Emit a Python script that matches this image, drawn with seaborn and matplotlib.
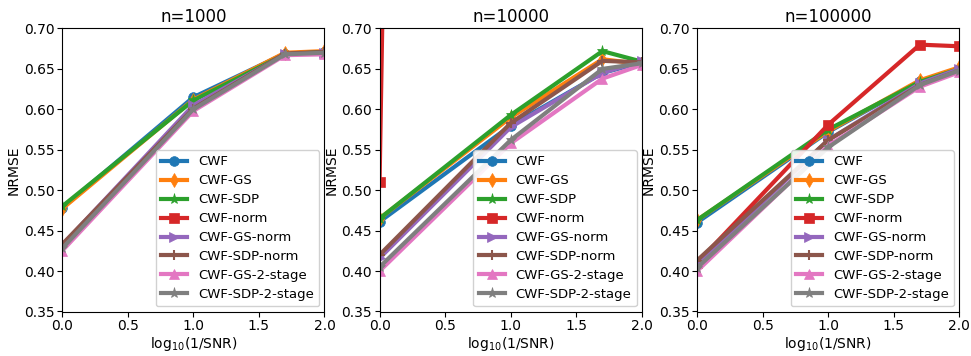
import matplotlib
matplotlib.use("Agg")
import matplotlib.pyplot as plt
import seaborn as sns
import numpy as np

x_vals = [0.0, 1.0, 1.699, 2.0]
titles = ["n=1000", "n=10000", "n=100000"]
methods = ["CWF", "CWF-GS", "CWF-SDP", "CWF-norm", "CWF-GS-norm",
           "CWF-SDP-norm", "CWF-GS-2-stage", "CWF-SDP-2-stage"]
markers = ["o", "d", "*", "s", ">", "+", "^", "*"]

# NRMSE per method, per panel (n=1000, n=10000, n=100000)
cwf          = [[0.478, 0.615, 0.669, 0.671], [0.461, 0.580, 0.645, 0.658], [0.460, 0.572, 0.635, 0.650]]
cwf_gs       = [[0.477, 0.612, 0.670, 0.672], [0.465, 0.590, 0.662, 0.656], [0.463, 0.573, 0.636, 0.652]]
cwf_sdp      = [[0.480, 0.611, 0.668, 0.671], [0.465, 0.593, 0.672, 0.659], [0.463, 0.575, 0.634, 0.650]]
cwf_norm     = [[0.900, 9.000, 9.500, 9.800], [0.510, 10.00, 10.00, 10.00], [0.410, 0.581, 0.680, 0.678]]
cwf_gs_norm  = [[0.432, 0.605, 0.668, 0.670], [0.416, 0.578, 0.645, 0.660], [0.408, 0.562, 0.632, 0.650]]
cwf_sdp_norm = [[0.433, 0.601, 0.669, 0.671], [0.420, 0.583, 0.660, 0.658], [0.413, 0.562, 0.630, 0.648]]
cwf_gs_2st   = [[0.425, 0.598, 0.667, 0.668], [0.400, 0.558, 0.638, 0.655], [0.400, 0.555, 0.628, 0.646]]
cwf_sdp_2st  = [[0.428, 0.600, 0.668, 0.670], [0.405, 0.562, 0.650, 0.657], [0.404, 0.553, 0.630, 0.648]]

series = [cwf, cwf_gs, cwf_sdp, cwf_norm, cwf_gs_norm, cwf_sdp_norm, cwf_gs_2st, cwf_sdp_2st]
colors = sns.color_palette("tab10", 8)

fig, axes = plt.subplots(1, 3, figsize=(9.71, 3.56), dpi=100)
fig.subplots_adjust(left=0.064, right=0.988, top=0.92, bottom=0.125, wspace=0.21)

for p, ax in enumerate(axes):
    for k, name in enumerate(methods):
        sns.lineplot(x=x_vals, y=series[k][p], ax=ax, color=colors[k], marker=markers[k],
                     markersize=8 if markers[k] == "*" else 7, linewidth=3, label=name,
                     markeredgecolor=colors[k],
                     markeredgewidth=1.5 if markers[k] == "+" else 0.5)
    ax.set_xlim(0, 2)
    ax.set_ylim(0.35, 0.70)
    ax.set_xticks([0.0, 0.5, 1.0, 1.5, 2.0])
    ax.set_yticks(np.arange(0.35, 0.701, 0.05))
    ax.set_title(titles[p], fontsize=12, pad=5)
    ax.set_ylabel("NRMSE", fontsize=10, labelpad=2)
    ax.set_xlabel("log$_{10}$(1/SNR)", fontsize=10, labelpad=1)
    ax.tick_params(labelsize=10, pad=2)
    ax.legend(loc="lower right", fontsize=9.5, framealpha=0.9,
              borderaxespad=0.4, labelspacing=0.45)

fig.savefig("out.png", dpi=100)
